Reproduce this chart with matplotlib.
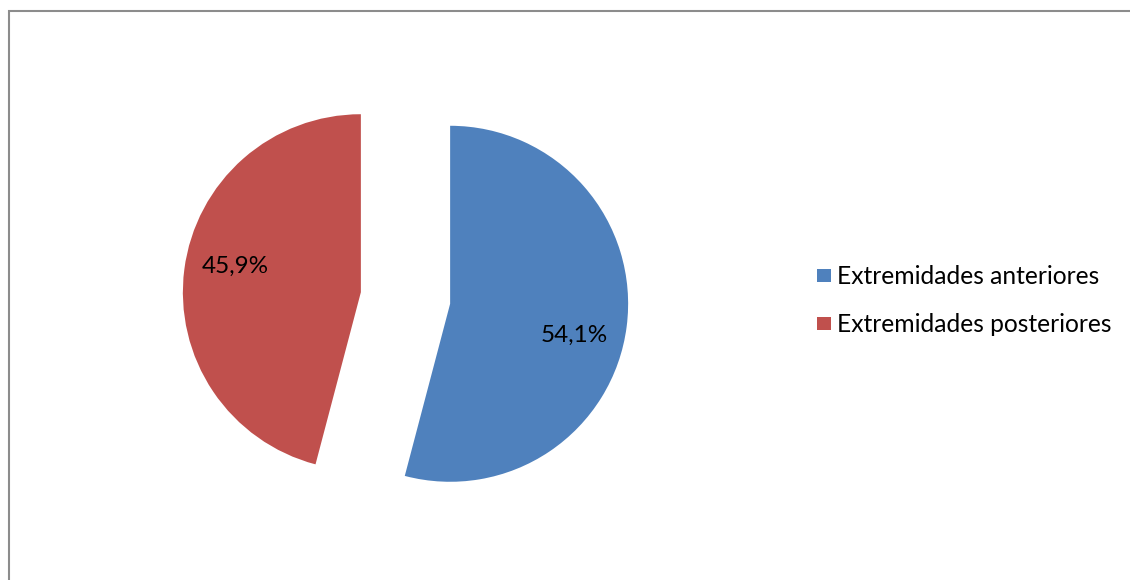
import matplotlib
matplotlib.use("Agg")
import matplotlib.pyplot as plt
from matplotlib.patches import Rectangle
import numpy as np

categories = ["Extremidades anteriores", "Extremidades posteriores"]
values = [54.1, 45.9]
colors = ["#4F81BD", "#C0504D"]

W, H = 1130, 580
fig = plt.figure(figsize=(W / 100, H / 100), dpi=100)
ax = fig.add_axes([0, 0, 1, 1])

font = "Lato"
cx, cy, r = 405.5, H - 298, 178
wedges, texts = ax.pie(values, colors=colors, startangle=90, counterclock=False,
                       center=(cx, cy), radius=r, explode=[45, 45],
                       wedgeprops=dict(linewidth=0), frame=True)
ax.set_xlim(0, W)
ax.set_ylim(0, H)
ax.set_aspect("equal")
ax.axis("off")

# percentage labels
label_pos = [(-14, 0.72), (168, 0.72)]
for w, v, (ang, d) in zip(wedges, values, label_pos):
    wx, wy = w.center
    a = np.deg2rad(ang)
    ax.text(wx + d * r * np.cos(a), wy + d * r * np.sin(a) - 1,
            f"{v:.1f}%".replace(".", ","), ha="center", va="center",
            fontsize=17.5, family=font, color="black")

# legend
for i, (lab, c) in enumerate(zip(categories, colors)):
    yy = H - (275 + i * 48)
    ax.add_patch(Rectangle((817, yy - 7), 13.5, 13.5, color=c, lw=0))
    ax.text(837, yy - 1.5, lab, ha="left", va="center", fontsize=17.7, family=font, color="black")

# border
fig.patches.append(Rectangle((8.5 / W, -0.1), 1.2, (H - 10.5) / H + 0.1,
                             transform=fig.transFigure, fill=False,
                             edgecolor="#8C8C8C", linewidth=1.5))

fig.savefig("out.png", dpi=100)
